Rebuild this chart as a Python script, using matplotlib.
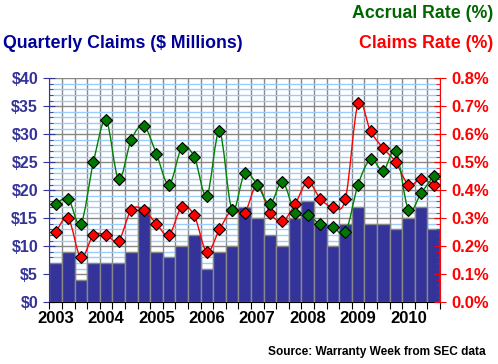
import matplotlib
matplotlib.use("Agg")
import matplotlib.pyplot as plt
from matplotlib.path import Path
from matplotlib.patches import PathPatch
from matplotlib.ticker import MultipleLocator, FuncFormatter

# quarterly data, 2003 Q1 .. 2010 Q3
years = ["2003", "2004", "2005", "2006", "2007", "2008", "2009", "2010"]
claims = [7, 9, 4, 7, 7, 7, 9, 17, 9, 8, 10, 12, 6, 9, 10, 17,
          15, 12, 10, 15, 18, 14, 10, 14, 17, 14, 14, 13, 15, 17, 13]
accrual_rate = [0.35, 0.37, 0.28, 0.50, 0.65, 0.44, 0.58, 0.63, 0.53, 0.42,
                0.55, 0.52, 0.38, 0.61, 0.33, 0.46, 0.42, 0.35, 0.43, 0.32,
                0.31, 0.28, 0.27, 0.25, 0.42, 0.51, 0.47, 0.54, 0.33, 0.39,
                0.45]
claims_rate = [0.25, 0.30, 0.16, 0.24, 0.24, 0.22, 0.33, 0.33, 0.28, 0.24,
               0.34, 0.31, 0.18, 0.26, 0.33, 0.32, 0.42, 0.32, 0.29, 0.35,
               0.43, 0.37, 0.34, 0.37, 0.71, 0.61, 0.55, 0.50, 0.42, 0.44,
               0.42]

BLUE = "#333399"
GREEN = "#007700"
RED = "#ff0000"

plt.rcParams["font.family"] = ["Liberation Sans", "DejaVu Sans"]
plt.rcParams["font.weight"] = "bold"


def smooth_path(xs, ys):
    """Excel-like smoothed line as cubic bezier path."""
    pts = list(zip(xs, ys))
    verts = [pts[0]]
    codes = [Path.MOVETO]
    n = len(pts)
    for i in range(n - 1):
        p0 = pts[i - 1] if i > 0 else pts[i]
        p1 = pts[i]
        p2 = pts[i + 1]
        p3 = pts[i + 2] if i + 2 < n else pts[i + 1]
        c1 = (p1[0] + (p2[0] - p0[0]) / 6, p1[1] + (p2[1] - p0[1]) / 6)
        c2 = (p2[0] - (p3[0] - p1[0]) / 6, p2[1] - (p3[1] - p1[1]) / 6)
        verts += [c1, c2, p2]
        codes += [Path.CURVE4] * 3
    return Path(verts, codes)


def main():
    fig = plt.figure(figsize=(4.98, 3.64), dpi=100)
    ax = fig.add_axes([0.099, 0.1695, 0.7845, 0.6155])
    x = list(range(len(claims)))

    ax.bar(x, claims, width=1.0, color=BLUE, edgecolor="#888888",
           linewidth=1, zorder=2)
    ax.set_xlim(-0.5, len(claims) - 0.5)
    ax.set_ylim(0, 40)
    ax.yaxis.set_major_locator(MultipleLocator(5))
    ax.yaxis.set_minor_locator(MultipleLocator(1))
    ax.yaxis.set_major_formatter(FuncFormatter(lambda v, p: "$%d" % v))
    ax.grid(axis="y", which="minor", color="#99ccff", linewidth=1, zorder=0)
    ax.grid(axis="y", which="major", color="#888888", linewidth=1, zorder=0)

    bounds = [i - 0.5 for i in range(len(claims) + 1)]
    ax.set_xticks(bounds)
    ax.set_xticklabels([])
    ax.set_xticks([4 * i for i in range(len(years))], minor=True)
    ax.set_xticklabels(years, minor=True)
    ax.grid(axis="x", which="major", color="#888888", linewidth=1, zorder=0)
    ax.set_axisbelow(True)

    ax.tick_params(axis="x", which="major", length=5, color="black",
                   direction="out")
    ax.tick_params(axis="x", which="minor", length=0, pad=6, labelsize=12,
                   labelcolor="black")
    ax.tick_params(axis="y", which="major", length=8, direction="inout",
                   color=BLUE, labelcolor=BLUE, labelsize=11.5, pad=4)
    ax.tick_params(axis="y", which="minor", length=3, direction="in",
                   color=BLUE)
    ax.spines["left"].set_color(BLUE)
    ax.spines["bottom"].set_color("black")
    ax.spines["top"].set_visible(False)
    ax.spines["right"].set_visible(False)

    ax2 = ax.twinx()
    ax2.set_ylim(0, 0.8)
    ax2.yaxis.set_major_locator(MultipleLocator(0.1))
    ax2.yaxis.set_minor_locator(MultipleLocator(0.02))
    ax2.yaxis.set_major_formatter(FuncFormatter(lambda v, p: "%.1f%%" % v))
    ax2.tick_params(axis="y", which="major", length=8, direction="inout",
                    color=RED, labelcolor=RED, labelsize=12, pad=4)
    ax2.tick_params(axis="y", which="minor", length=3, direction="in",
                    color=RED)
    ax2.spines["right"].set_color(RED)
    for s in ["left", "top", "bottom"]:
        ax2.spines[s].set_visible(False)

    ax2.add_patch(PathPatch(smooth_path(x, claims_rate), fill=False,
                            edgecolor=RED, linewidth=1, zorder=3))
    ax2.add_patch(PathPatch(smooth_path(x, accrual_rate), fill=False,
                            edgecolor="#008000", linewidth=1, zorder=3))
    ax2.plot(x, claims_rate, "D", color=RED, markeredgecolor="black",
             markeredgewidth=0.8, markersize=6, zorder=4)
    ax2.plot(x, accrual_rate, "D", color=GREEN, markeredgecolor="black",
             markeredgewidth=0.8, markersize=6, zorder=5)

    fig.text(0.006, 0.88, "Quarterly Claims ($ Millions)", color="#000099",
             fontsize=12.8, ha="left", va="center")
    fig.text(0.99, 0.963, "Accrual Rate (%)", color="#006600",
             fontsize=12.8, ha="right", va="center")
    fig.text(0.99, 0.88, "Claims Rate (%)", color=RED,
             fontsize=12.8, ha="right", va="center")
    fig.text(0.975, 0.033, "Source: Warranty Week from SEC data",
             color="black", fontsize=8.6, ha="right", va="center")

    fig.savefig("out.png", dpi=100)
    plt.close(fig)


if __name__ == "__main__":
    main()
